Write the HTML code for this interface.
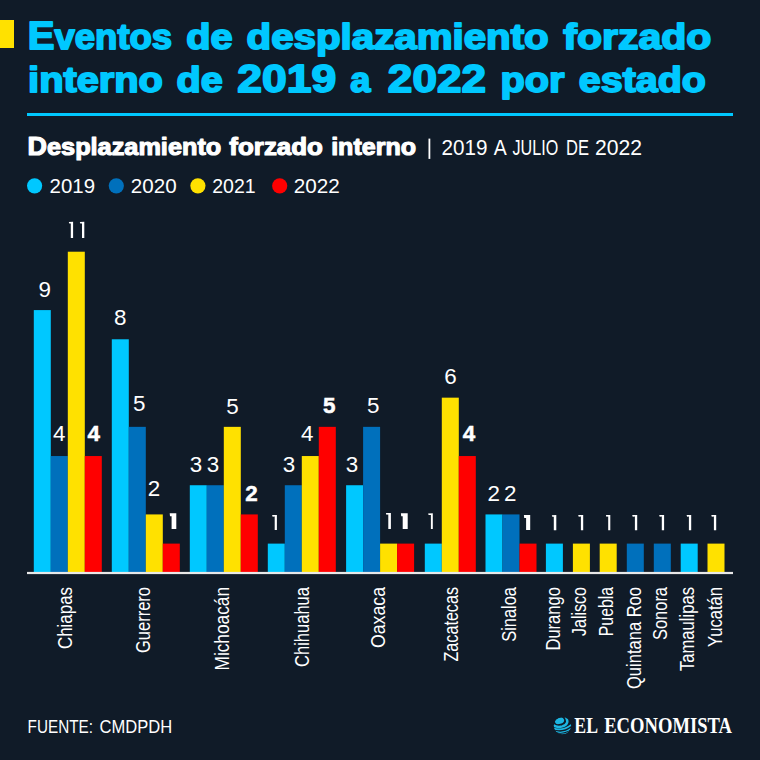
<!DOCTYPE html>
<html><head><meta charset="utf-8"><style>
html,body{margin:0;padding:0;background:#101b28;width:760px;height:760px;overflow:hidden}
svg{display:block}
</style></head><body>
<svg width="760" height="760" viewBox="0 0 760 760">
<style>
text{font-family:"Liberation Sans",sans-serif;fill:#fff}
.t{font-weight:bold;fill:#00c8ff;stroke:#00c8ff;stroke-width:1.8px;stroke-linejoin:round;font-size:35px}
.cap{font-size:38.5px}
.s{font-weight:bold;font-size:23.5px;stroke:#fff;stroke-width:1.1px;stroke-linejoin:round}
.scap{font-size:25px}
.thin{}
.sl{font-size:22.4px}
.lg{font-size:20.4px}
.v{font-size:22.4px;text-anchor:middle}
.vb{font-size:22.4px;font-weight:bold;text-anchor:middle;stroke:#fff;stroke-width:0.5px}
.c{font-size:19.5px;text-anchor:end}
.f{font-size:19px}
.logo{font-family:"Liberation Serif",serif;font-weight:bold;font-size:23px}
</style>
<rect width="760" height="760" fill="#101b28"/>
<rect x="0" y="20" width="14" height="28" fill="#ffe100"/>
<text class="t" x="27.78" y="49.1" textLength="144.34" lengthAdjust="spacingAndGlyphs"><tspan class="cap">E</tspan>ventos</text><text class="t" x="186.26" y="49.1" textLength="46.38" lengthAdjust="spacingAndGlyphs">de</text><text class="t" x="246.59" y="49.1" textLength="302.11" lengthAdjust="spacingAndGlyphs">desplazamiento</text><text class="t" x="563.29" y="49.1" textLength="148.12" lengthAdjust="spacingAndGlyphs">forzado</text><text class="t" x="28.09" y="92.1" textLength="134.77" lengthAdjust="spacingAndGlyphs">interno</text><text class="t" x="176.47" y="92.1" textLength="46.26" lengthAdjust="spacingAndGlyphs">de</text><text class="t" x="237.32" y="92.1" textLength="98.84" lengthAdjust="spacingAndGlyphs"><tspan class="cap">2019</tspan></text><text class="t" x="350.33" y="92.1" textLength="20.15" lengthAdjust="spacingAndGlyphs">a</text><text class="t" x="387.88" y="92.1" textLength="98.05" lengthAdjust="spacingAndGlyphs"><tspan class="cap">2022</tspan></text><text class="t" x="500.57" y="92.1" textLength="63.93" lengthAdjust="spacingAndGlyphs">por</text><text class="t" x="578.88" y="92.1" textLength="126.93" lengthAdjust="spacingAndGlyphs">estado</text><text class="s" x="27.57" y="154.6" textLength="193.74" lengthAdjust="spacingAndGlyphs"><tspan class="scap">D</tspan>esplazamiento</text><text class="s" x="229.39" y="154.6" textLength="93.54" lengthAdjust="spacingAndGlyphs">forzado</text><text class="s" x="331.17" y="154.6" textLength="84.94" lengthAdjust="spacingAndGlyphs">interno</text><text class="sl thin" x="441.46" y="155" textLength="45.95" lengthAdjust="spacingAndGlyphs">2019</text><text class="sl thin" x="493.83" y="155" textLength="12.99" lengthAdjust="spacingAndGlyphs">A</text><text class="sl thin" x="512.54" y="155" textLength="45.67" lengthAdjust="spacingAndGlyphs">JULIO</text><text class="sl thin" x="565.97" y="155" textLength="23.01" lengthAdjust="spacingAndGlyphs">DE</text><text class="sl thin" x="594.96" y="155" textLength="47.03" lengthAdjust="spacingAndGlyphs">2022</text><text class="lg" x="49.58" y="193.2" textLength="45.42" lengthAdjust="spacingAndGlyphs">2019</text><text class="lg" x="130.80" y="193.2" textLength="45.82" lengthAdjust="spacingAndGlyphs">2020</text><text class="lg" x="212.19" y="193.2" textLength="43.43" lengthAdjust="spacingAndGlyphs">2021</text><text class="lg" x="293.77" y="193.2" textLength="46.05" lengthAdjust="spacingAndGlyphs">2022</text><text class="f" x="27.58" y="733.4" textLength="65.43" lengthAdjust="spacingAndGlyphs">FUENTE:</text><text class="f" x="99.59" y="733.4" textLength="72.63" lengthAdjust="spacingAndGlyphs">CMDPDH</text><text class="logo" x="574.37" y="732.9" textLength="23.63" lengthAdjust="spacingAndGlyphs">EL</text><text class="logo" x="604.20" y="732.9" textLength="127.81" lengthAdjust="spacingAndGlyphs">ECONOMISTA</text>
<rect x="27" y="113" width="706" height="3" fill="#00c8ff"/>
<rect x="428.5" y="138.6" width="1.8" height="20.3" fill="#fff"/>
<circle cx="34.6" cy="185.8" r="7.6" fill="#00c8ff"/>
<circle cx="116.3" cy="185.8" r="7.6" fill="#0070bc"/>
<circle cx="197.9" cy="185.8" r="7.6" fill="#ffe100"/>
<circle cx="279.7" cy="185.8" r="7.6" fill="#ff0000"/>
<rect x="33.80" y="310.09" width="17" height="262.71" fill="#00c8ff"/><rect x="50.80" y="456.04" width="17" height="116.76" fill="#0070bc"/><rect x="67.80" y="251.71" width="17" height="321.09" fill="#ffe100"/><rect x="84.80" y="456.04" width="17" height="116.76" fill="#ff0000"/><rect x="111.80" y="339.28" width="17" height="233.52" fill="#00c8ff"/><rect x="128.80" y="426.85" width="17" height="145.95" fill="#0070bc"/><rect x="145.80" y="514.42" width="17" height="58.38" fill="#ffe100"/><rect x="162.80" y="543.61" width="17" height="29.19" fill="#ff0000"/><rect x="189.80" y="485.23" width="17" height="87.57" fill="#00c8ff"/><rect x="206.80" y="485.23" width="17" height="87.57" fill="#0070bc"/><rect x="223.80" y="426.85" width="17" height="145.95" fill="#ffe100"/><rect x="240.80" y="514.42" width="17" height="58.38" fill="#ff0000"/><rect x="267.80" y="543.61" width="17" height="29.19" fill="#00c8ff"/><rect x="284.80" y="485.23" width="17" height="87.57" fill="#0070bc"/><rect x="301.80" y="456.04" width="17" height="116.76" fill="#ffe100"/><rect x="318.80" y="426.85" width="17" height="145.95" fill="#ff0000"/><rect x="346.10" y="485.23" width="17" height="87.57" fill="#00c8ff"/><rect x="363.10" y="426.85" width="17" height="145.95" fill="#0070bc"/><rect x="380.10" y="543.61" width="17" height="29.19" fill="#ffe100"/><rect x="397.10" y="543.61" width="17" height="29.19" fill="#ff0000"/><rect x="424.80" y="543.61" width="17" height="29.19" fill="#00c8ff"/><rect x="441.80" y="397.66" width="17" height="175.14" fill="#ffe100"/><rect x="458.80" y="456.04" width="17" height="116.76" fill="#ff0000"/><rect x="485.50" y="514.42" width="17" height="58.38" fill="#00c8ff"/><rect x="502.50" y="514.42" width="17" height="58.38" fill="#0070bc"/><rect x="519.50" y="543.61" width="17" height="29.19" fill="#ff0000"/><rect x="545.90" y="543.61" width="17" height="29.19" fill="#00c8ff"/><rect x="572.90" y="543.61" width="17" height="29.19" fill="#ffe100"/><rect x="599.70" y="543.61" width="17" height="29.19" fill="#ffe100"/><rect x="626.80" y="543.61" width="17" height="29.19" fill="#0070bc"/><rect x="653.80" y="543.61" width="17" height="29.19" fill="#0070bc"/><rect x="680.70" y="543.61" width="17" height="29.19" fill="#00c8ff"/><rect x="707.50" y="543.61" width="17" height="29.19" fill="#ffe100"/>
<rect x="27" y="571.9" width="706" height="2.2" fill="#e8e8e8"/>
<text class="v" x="44.80" y="297.20">9</text><text class="v" x="59.30" y="441.20">4</text><text class="vb" x="93.70" y="441.20">4</text><text class="v" x="120.20" y="325.00">8</text><text class="v" x="139.20" y="411.40">5</text><text class="v" x="154.00" y="495.60">2</text><text class="v" x="196.10" y="471.80">3</text><text class="v" x="213.10" y="471.80">3</text><text class="v" x="232.40" y="414.20">5</text><text class="vb" x="251.50" y="501.40">2</text><text class="v" x="289.00" y="471.60">3</text><text class="v" x="307.30" y="441.00">4</text><text class="vb" x="329.30" y="413.00">5</text><text class="v" x="352.10" y="471.80">3</text><text class="v" x="373.20" y="412.80">5</text><text class="v" x="450.60" y="384.00">6</text><text class="vb" x="469.00" y="441.00">4</text><text class="v" x="493.80" y="501.00">2</text><text class="v" x="510.20" y="501.00">2</text><path d="M68.80 222.00L73.10 221.80V238.10H70.80V223.50L69.30 223.60Z" fill="#fff"/><path d="M79.80 222.00L84.30 221.80V238.10H82.00V223.50L80.30 223.60Z" fill="#fff"/><path d="M169.70 513.20H176.30V529.00H171.60V516.20H170.00Z" fill="#fff"/><path d="M272.10 515.10L276.90 514.90V530.10H274.70V516.60L272.60 516.70Z" fill="#fff"/><path d="M385.90 513.10L390.90 512.90V529.00H388.30V514.60L386.40 514.70Z" fill="#fff"/><path d="M400.90 513.20H407.70V529.00H402.70V516.20H401.20Z" fill="#fff"/><path d="M428.10 513.50L432.80 513.30V528.90H430.90V515.00L428.60 515.10Z" fill="#fff"/><path d="M523.90 514.90H530.20V530.10H526.10V517.90H524.20Z" fill="#fff"/><path d="M551.80 515.20L556.30 515.00V530.30H553.80V516.70L552.30 516.80Z" fill="#fff"/><path d="M578.20 515.10L583.20 514.90V530.30H580.90V516.60L578.70 516.70Z" fill="#fff"/><path d="M605.90 515.10L610.30 514.90V530.30H608.20V516.60L606.40 516.70Z" fill="#fff"/><path d="M632.20 515.10L637.20 514.90V530.30H634.90V516.60L632.70 516.70Z" fill="#fff"/><path d="M659.20 515.10L664.10 514.90V530.30H661.80V516.60L659.70 516.70Z" fill="#fff"/><path d="M686.60 515.10L691.20 514.90V530.30H688.90V516.60L687.10 516.70Z" fill="#fff"/><path d="M711.30 515.10L716.20 514.90V530.30H713.90V516.60L711.80 516.70Z" fill="#fff"/>
<text class="c" transform="translate(72.2,587) rotate(-90)" textLength="62" lengthAdjust="spacingAndGlyphs">Chiapas</text><text class="c" transform="translate(149.6,587) rotate(-90)" textLength="66" lengthAdjust="spacingAndGlyphs">Guerrero</text><text class="c" transform="translate(229.4,587) rotate(-90)" textLength="83.5" lengthAdjust="spacingAndGlyphs">Michoacán</text><text class="c" transform="translate(308.9,587) rotate(-90)" textLength="80" lengthAdjust="spacingAndGlyphs">Chihuahua</text><text class="c" transform="translate(385.4,587) rotate(-90)" textLength="61" lengthAdjust="spacingAndGlyphs">Oaxaca</text><text class="c" transform="translate(457.6,587) rotate(-90)" textLength="74.5" lengthAdjust="spacingAndGlyphs">Zacatecas</text><text class="c" transform="translate(516.3,587) rotate(-90)" textLength="54.8" lengthAdjust="spacingAndGlyphs">Sinaloa</text><text class="c" transform="translate(559.6,587) rotate(-90)" textLength="63.6" lengthAdjust="spacingAndGlyphs">Durango</text><text class="c" transform="translate(586.4,587) rotate(-90)" textLength="49" lengthAdjust="spacingAndGlyphs">Jalisco</text><text class="c" transform="translate(613,587) rotate(-90)" textLength="49.2" lengthAdjust="spacingAndGlyphs">Puebla</text><text class="c" transform="translate(640.8,587) rotate(-90)" textLength="102" lengthAdjust="spacingAndGlyphs">Quintana Roo</text><text class="c" transform="translate(667.3,587) rotate(-90)" textLength="53" lengthAdjust="spacingAndGlyphs">Sonora</text><text class="c" transform="translate(694.2,587) rotate(-90)" textLength="84" lengthAdjust="spacingAndGlyphs">Tamaulipas</text><text class="c" transform="translate(722,587) rotate(-90)" textLength="60" lengthAdjust="spacingAndGlyphs">Yucatán</text>
<defs><clipPath id="gc"><circle cx="562.4" cy="725.6" r="8.7"/></clipPath></defs>
<g clip-path="url(#gc)" fill="none" stroke="#1cb6e2">
<ellipse cx="559.5" cy="720.9" rx="4.7" ry="3.1" transform="rotate(-18 559.5 720.9)" fill="#1cb6e2" stroke="none"/>
<path d="M565.6 716.6 Q570.2 723.6 562.4 726.4 Q557.4 727.8 553.4 725.4" stroke-width="2.5"/>
<path d="M553.2 728.4 Q562.2 731.8 572 724.4" stroke-width="1.7"/>
<path d="M554 731.2 Q563.2 734.3 571 728.6" stroke-width="1.3"/>
<path d="M556 733.9 Q564 735.6 569.6 731.8" stroke-width="1.1"/>
</g>
</svg>
</body></html>
